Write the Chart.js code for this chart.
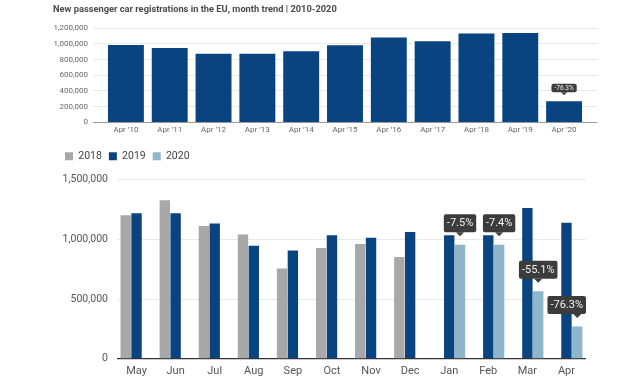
<!DOCTYPE html>
<html>
<head>
<meta charset="utf-8">
<script src="https://cdn.jsdelivr.net/npm/chart.js@4.4.0/dist/chart.umd.min.js"></script>
<style>
  html, body { margin: 0; padding: 0; background: #fff; }
  #top { position: absolute; left: 0; top: 0; width: 640px; height: 140px; }
  #bottom { position: absolute; left: 0; top: 140px; width: 640px; height: 244px; }
</style>
</head>
<body>
<div id="top"><canvas id="topChart"></canvas></div>
<div id="bottom"><canvas id="bottomChart"></canvas></div>
<script>
// yearly April totals
var aprLabels = ['Apr ’10', 'Apr ’11', 'Apr ’12', 'Apr ’13', 'Apr ’14', 'Apr ’15', 'Apr ’16', 'Apr ’17', 'Apr ’18', 'Apr ’19', 'Apr ’20'];
var aprValues = [985000, 947000, 875000, 875000, 905000, 981000, 1082000, 1032000, 1133000, 1137000, 269000];
var aprChange = [null, null, null, null, null, null, null, null, null, null, '-76.3%'];
var topTicks = [0, 200000, 400000, 600000, 800000, 1000000, 1200000];

// monthly registrations, May to April
var months = ['May', 'Jun', 'Jul', 'Aug', 'Sep', 'Oct', 'Nov', 'Dec', 'Jan', 'Feb', 'Mar', 'Apr'];
var values2018 = [1200000, 1326000, 1111000, 1039000, 756000, 926000, 960000, 851000, null, null, null, null];
var values2019 = [1217000, 1217000, 1131000, 946000, 905000, 1033000, 1013000, 1060000, 1033000, 1033000, 1261000, 1139000];
var values2020 = [null, null, null, null, null, null, null, null, 955000, 955000, 566000, 270000];
var change2020 = [null, null, null, null, null, null, null, null, '-7.5%', '-7.4%', '-55.1%', '-76.3%'];
var bottomTicks = [0, 500000, 1000000, 1500000];

var NAVY = '#0a4480';
var GREY = '#a8a8ab';
var LIGHT = '#8db6cb';
var FONT = 'Roboto, "Open Sans", sans-serif';

function fmt(v) { return v.toLocaleString('en-US'); }

// little dark boxes with an arrow above a bar
function callouts(chart, dsIndex, texts, o) {
  var ctx = chart.ctx;
  var meta = chart.getDatasetMeta(dsIndex);
  var area = chart.chartArea;
  ctx.save();
  ctx.font = o.size + 'px ' + FONT;
  ctx.textAlign = 'center';
  ctx.textBaseline = 'middle';
  meta.data.forEach(function(bar, i) {
    var t = texts[i];
    if (!t) return;
    var w = ctx.measureText(t).width + o.padX * 2;
    var tip = bar.y - o.gap;
    var bottom = tip - o.arrow;
    var top = bottom - o.h;
    var left = bar.x - w / 2;
    if (left + w > area.right) left = area.right - w;
    ctx.fillStyle = '#3c3c3c';
    ctx.beginPath();
    ctx.roundRect(left, top, w, o.h, 2);
    ctx.fill();
    ctx.beginPath();
    ctx.moveTo(bar.x - o.arrow, bottom);
    ctx.lineTo(bar.x + o.arrow, bottom);
    ctx.lineTo(bar.x, tip);
    ctx.closePath();
    ctx.fill();
    ctx.fillStyle = '#f2f2f2';
    ctx.fillText(t, left + w / 2, top + o.h / 2 + 0.5);
  });
  ctx.restore();
}

function gridColor(dark) {
  return function(c) { return c.tick && c.tick.value === 0 ? dark : '#e9e9e9'; };
}

new Chart(document.getElementById('topChart'), {
  type: 'bar',
  data: {
    labels: aprLabels,
    datasets: [{ data: aprValues, backgroundColor: NAVY, categoryPercentage: 1, barPercentage: 0.82 }]
  },
  options: {
    responsive: true,
    maintainAspectRatio: false,
    animation: false,
    layout: { padding: { left: 53, right: 43, top: 0, bottom: 2 } },
    plugins: {
      legend: { display: false },
      tooltip: { enabled: false },
      title: {
        display: true,
        text: 'New passenger car registrations in the EU, month trend | 2010-2020',
        align: 'start',
        color: '#4a4a4a',
        font: { family: FONT, size: 9.3, weight: 'bold' },
        padding: { top: 4, bottom: 13 }
      }
    },
    scales: {
      x: {
        grid: { display: false, drawTicks: false },
        border: { display: false },
        ticks: { color: '#666', font: { family: FONT, size: 8 }, padding: 3 }
      },
      y: {
        min: 0, max: 1200000,
        afterBuildTicks: function(s) { s.ticks = topTicks.map(function(v) { return { value: v }; }); },
        afterFit: function(s) { s.width = 51; },
        border: { display: false },
        grid: { color: gridColor('#9a9a9a'), tickColor: gridColor('#9a9a9a'), tickLength: 11 },
        ticks: { color: '#666', font: { family: FONT, size: 8 }, padding: 5, callback: fmt }
      },
      y2: {
        position: 'right',
        min: 0, max: 1200000,
        afterBuildTicks: function(s) { s.ticks = topTicks.map(function(v) { return { value: v }; }); },
        border: { display: false },
        grid: { drawOnChartArea: false, color: gridColor('#9a9a9a'), tickColor: gridColor('#9a9a9a'), tickLength: 11 },
        ticks: { display: false }
      }
    }
  },
  plugins: [{
    id: 'topCallouts',
    afterDatasetsDraw: function(chart) {
      callouts(chart, 0, aprChange, { size: 6.5, padX: 3, h: 8.5, gap: 6, arrow: 3 });
    }
  }]
});

new Chart(document.getElementById('bottomChart'), {
  type: 'bar',
  data: {
    labels: months,
    datasets: [
      { label: '2018', data: values2018, backgroundColor: GREY },
      { label: '2019', data: values2019, backgroundColor: NAVY },
      { label: '2020', data: values2020, backgroundColor: LIGHT }
    ]
  },
  options: {
    responsive: true,
    maintainAspectRatio: false,
    animation: false,
    categoryPercentage: 0.83,
    barPercentage: 0.96,
    layout: { padding: { left: 58, right: 54, top: 4, bottom: 0 } },
    plugins: {
      tooltip: { enabled: false },
      legend: {
        align: 'start',
        labels: {
          boxWidth: 8, boxHeight: 8, padding: 7,
          color: '#444',
          font: { family: FONT, size: 10.5 }
        }
      }
    },
    scales: {
      x: {
        grid: { display: false, drawTicks: false },
        border: { display: false },
        ticks: { color: '#555', font: { family: FONT, size: 11 }, padding: 6 }
      },
      y: {
        min: 0, max: 1500000,
        afterBuildTicks: function(s) { s.ticks = bottomTicks.map(function(v) { return { value: v }; }); },
        afterFit: function(s) { s.width = 59; },
        border: { display: false },
        grid: { color: gridColor('#333'), lineWidth: function(c) { return c.tick && c.tick.value === 0 ? 1.2 : 1; }, drawTicks: false },
        ticks: { color: '#555', font: { family: FONT, size: 10.5 }, padding: 9, callback: fmt }
      }
    }
  },
  plugins: [{
    id: 'legendGap',
    beforeInit: function(chart) {
      var fit = chart.legend.fit;
      chart.legend.fit = function() {
        fit.call(this);
        this.height += 8;
      };
    }
  }, {
    id: 'bottomCallouts',
    afterDatasetsDraw: function(chart) {
      callouts(chart, 2, change2020, { size: 11, padX: 3, h: 18, gap: 8.5, arrow: 4 });
    }
  }]
});
</script>
</body>
</html>
